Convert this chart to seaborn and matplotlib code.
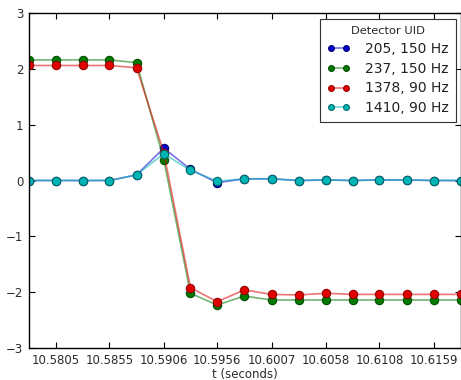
import matplotlib
matplotlib.use("Agg")
import matplotlib.pyplot as plt
import matplotlib.colors as mcolors
import numpy as np
import pandas as pd
import seaborn as sns

# Sample times (s)
t = [10.57797, 10.58050, 10.58300, 10.58550, 10.58805, 10.59060, 10.59310,
     10.59560, 10.59815, 10.60070, 10.60325, 10.60580, 10.60830, 10.61080,
     10.61335, 10.61590, 10.61845]

# Detector signals
uid_205 = [0.0, 0.0, 0.0, 0.0, 0.10, 0.58, 0.20, -0.04, 0.03, 0.03, 0.0, 0.01,
           0.0, 0.01, 0.01, 0.0, 0.0]
uid_237 = [2.16, 2.16, 2.16, 2.16, 2.11, 0.37, -2.02, -2.23, -2.07, -2.14, -2.14,
           -2.14, -2.14, -2.14, -2.14, -2.14, -2.14]
uid_1378 = [2.06, 2.06, 2.06, 2.06, 2.02, 0.50, -1.92, -2.17, -1.96, -2.04, -2.05,
            -2.02, -2.04, -2.04, -2.04, -2.04, -2.04]
uid_1410 = [0.0, 0.0, 0.0, 0.0, 0.10, 0.48, 0.18, -0.01, 0.03, 0.03, 0.0, 0.01,
            0.0, 0.01, 0.01, 0.0, 0.0]

labels = ["205, 150 Hz", "237, 150 Hz", "1378, 90 Hz", "1410, 90 Hz"]
colors = ["#0000cc", "#007a00", "#e00000", "#00b5b5"]
edge_colors = ["#00007a", "#004d00", "#990000", "#006b6b"]
tick_labels = ["10.5805", "10.5855", "10.5906", "10.5956",
               "10.6007", "10.6058", "10.6108", "10.6159"]

df = pd.concat([
    pd.DataFrame({"t": t, "v": vals, "uid": lab})
    for vals, lab in zip([uid_205, uid_237, uid_1378, uid_1410], labels)
], ignore_index=True)

sns.set_style("ticks")
plt.rcParams["font.family"] = ["DejaVu Sans"]
plt.rcParams["xtick.direction"] = "in"
plt.rcParams["ytick.direction"] = "in"

fig = plt.figure(figsize=(4.61, 3.80), dpi=100)
ax = fig.add_axes([29 / 461, 32 / 380, 1 - 29 / 461, 335 / 380])

sns.lineplot(data=df, x="t", y="v", hue="uid", hue_order=labels,
             palette=colors, marker="o", markersize=6, linewidth=1.2,
             legend=False, ax=ax, sort=False)

for line, c, ec in zip(ax.lines, colors, edge_colors):
    line.set_color(mcolors.to_rgba(c, 0.55))
    line.set_markerfacecolor(c)
    line.set_markeredgecolor(ec)
    line.set_markeredgewidth(0.8)

ax.set_xlim(t[0], t[-1])
ax.set_ylim(-3, 3)
ax.set_xticks(t[1::2])
ax.set_xticklabels(tick_labels)
ax.set_yticks([-3, -2, -1, 0, 1, 2, 3])
ax.set_yticklabels(["\u22123", "\u22122", "\u22121", "0", "1", "2", "3"])
ax.tick_params(axis="both", which="both", direction="in", top=True, right=True,
               length=4, width=0.8, labelsize=8.5, colors="black",
               labelcolor="#2a2a2a", pad=4)
ax.set_xlabel("t (seconds)", fontsize=8.5, labelpad=1, color="#2a2a2a")
ax.set_ylabel("")
for s in ax.spines.values():
    s.set_color("black")
    s.set_linewidth(1.0)

leg = ax.legend(ax.lines, labels, title="Detector UID", loc="upper right",
                bbox_to_anchor=(0.988, 0.982), numpoints=2, fontsize=10,
                title_fontsize=8.2, frameon=True, fancybox=False,
                edgecolor="#333333", framealpha=1, borderpad=0.5,
                markerscale=0.7, handlelength=1.65, labelspacing=0.42,
                handletextpad=1.1, borderaxespad=0.0)
leg.get_frame().set_linewidth(0.8)
for txt in leg.get_texts():
    txt.set_color("#222222")

fig.savefig("out.png", dpi=100)
